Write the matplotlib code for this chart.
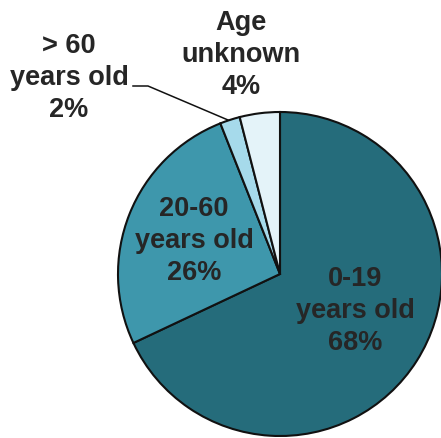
import matplotlib
matplotlib.use("Agg")
import matplotlib.pyplot as plt

categories = ["0-19\nyears old", "20-60\nyears old", "> 60\nyears old", "Age\nunknown"]
values = [68, 26, 2, 4]
colors = ["#256c7b", "#3e97ac", "#a6daeb", "#e4f3f9"]

W, H = 441, 439
fig = plt.figure(figsize=(W / 100, H / 100), dpi=100)
ax = fig.add_axes([0, 0, 1, 1])

cx, cy, r = 280, H - 275, 162
ax.pie(values, colors=colors, startangle=90, counterclock=False,
       center=(cx, cy), radius=r, frame=True,
       wedgeprops=dict(edgecolor="#111111", linewidth=1.5))
ax.set_xlim(0, W)
ax.set_ylim(0, H)
ax.set_aspect("equal")
ax.axis("off")

font = dict(family=["Liberation Sans", "DejaVu Sans"], fontweight="bold",
            fontsize=19.5, color="#262626", ha="center", va="center", linespacing=1.32)
labels = [f"{c}\n{v}%" for c, v in zip(categories, values)]
pos = [(355, H - 311), (194, H - 241), (69, H - 78), (241, H - 55)]
for t, (x, y) in zip(labels, pos):
    ax.text(x, y, t, **font)

ax.plot([133, 148, 228], [H - 87, H - 87, H - 121], color="#111111", lw=1.1)

fig.savefig("out.png", dpi=100)
